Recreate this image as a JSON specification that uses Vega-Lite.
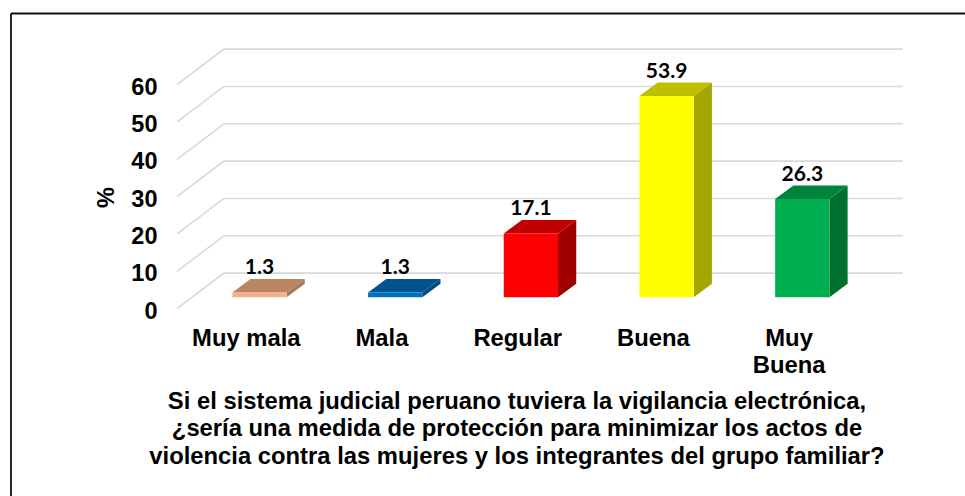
{
"$schema":"https://vega.github.io/schema/vega-lite/v6.json",
"width":954,"height":482.5,
"autosize":"none",
"padding":{"left":11,"top":13.5,"right":0,"bottom":0},
"background":"white",
"config":{"view":{"stroke":null}},
"datasets":{
 "bars":[
  {"cat":"Muy mala","i":1,"value":1.3},
  {"cat":"Mala","i":2,"value":1.3},
  {"cat":"Regular","i":3,"value":17.1},
  {"cat":"Buena","i":4,"value":53.9},
  {"cat":"Muy Buena","i":5,"value":26.3}],
 "grid":[{"v":0},{"v":10},{"v":20},{"v":30},{"v":40},{"v":50},{"v":60}]
},
"resolve":{"scale":{"fill":"independent"}},
"layer":[
 {"data":{"name":"grid"},
  "transform":[
   {"calculate":"[0.3921,0.7385,5.7398]","as":"xs"},
   {"calculate":"[datum.v,datum.v+9.51,datum.v+9.51]","as":"ys"},
   {"flatten":["xs","ys"]}],
  "mark":{"type":"line","stroke":"#D9D9D9","strokeWidth":1.6,"interpolate":"linear"},
  "encoding":{
   "x":{"field":"xs","type":"quantitative","scale":{"domain":[-0.8312,6.199],"nice":false,"zero":false},
    "axis":{"values":[1,2,3,4,5],"orient":"bottom","offset":-169.8,"grid":false,"domain":false,"ticks":false,
     "labelExpr":"datum.value==1?'Muy mala':datum.value==2?'Mala':datum.value==3?'Regular':datum.value==4?'Buena':['Muy','Buena']",
     "labelFont":"Liberation Sans","labelFontWeight":"bold","labelFontSize":23.8,"labelColor":"#000","labelPadding":0,"labelOffset":-13.7,"labelLineHeight":27.3,
     "labelOverlap":false,"labelFlush":false,"labelBound":false,"labelAngle":0,
     "title":["Si el sistema judicial peruano tuviera la vigilancia electrónica,","¿sería una medida de protección para minimizar los actos de","violencia contra las mujeres y los integrantes del grupo familiar?"],
     "titleFont":"Liberation Sans","titleFontWeight":"bold","titleFontSize":23.8,"titleColor":"#000","titleLineHeight":27.5,
     "titleX":505.5,"titleY":82.1,"titleAlign":"center","titleBaseline":"alphabetic"}},
   "y":{"field":"ys","type":"quantitative","scale":{"domain":[-50.2,79.05],"nice":false,"zero":false},
    "axis":{"values":[0,10,20,30,40,50,60],"orient":"left","offset":-166,"grid":false,"domain":false,"ticks":false,
     "labelFont":"Liberation Sans","labelFontWeight":"bold","labelFontSize":23.5,"labelColor":"#000","labelPadding":20,"labelOffset":2.5,"labelOverlap":false,"labelBound":false,"labelFlush":false,
     "title":"%","titleFont":"Liberation Sans","titleFontWeight":"bold","titleFontSize":23.5,"titleColor":"#000","titleAngle":-90,"titleX":-71,"titleY":183.5,"titleAlign":"center","titleBaseline":"middle"}},
   "detail":{"field":"v"}}},
 {"data":{"name":"bars"},
  "transform":[
   {"calculate":"[datum.i+0.2,datum.i+0.334]","as":"xs"},
   {"calculate":"[3.03,6.65]","as":"lo"},
   {"calculate":"[datum.value+3.03,datum.value+6.65]","as":"hi"},
   {"flatten":["xs","lo","hi"]}],
  "mark":{"type":"area","interpolate":"linear"},
  "encoding":{
   "x":{"field":"xs","type":"quantitative"},
   "y":{"field":"lo","type":"quantitative","stack":null},
   "y2":{"field":"hi"},
   "fill":{"field":"cat","type":"nominal","legend":null,"scale":{"domain":["Muy mala","Mala","Regular","Buena","Muy Buena"],"range":["#A67A5C","#004A80","#9E0000","#A6A600","#007030"]}}}},
 {"data":{"name":"bars"},
  "transform":[
   {"calculate":"[datum.i-0.2,datum.i-0.066,datum.i+0.2,datum.i+0.334]","as":"xs"},
   {"calculate":"[datum.value+3.03,datum.value+3.03,datum.value+3.03,datum.value+6.65]","as":"lo"},
   {"calculate":"[datum.value+3.03,datum.value+6.65,datum.value+6.65,datum.value+6.65]","as":"hi"},
   {"flatten":["xs","lo","hi"]}],
  "mark":{"type":"area","interpolate":"linear"},
  "encoding":{
   "x":{"field":"xs","type":"quantitative"},
   "y":{"field":"lo","type":"quantitative","stack":null},
   "y2":{"field":"hi"},
   "fill":{"field":"cat","type":"nominal","legend":null,"scale":{"domain":["Muy mala","Mala","Regular","Buena","Muy Buena"],"range":["#B98563","#00538F","#C00000","#BFBF00","#00843C"]}}}},
 {"data":{"name":"bars"},
  "transform":[
   {"calculate":"datum.i-0.2","as":"x0"},{"calculate":"datum.i+0.2","as":"x1"},
   {"calculate":"3.03","as":"y0"},{"calculate":"datum.value+3.03","as":"y1"}],
  "mark":{"type":"rect"},
  "encoding":{
   "x":{"field":"x0","type":"quantitative"},"x2":{"field":"x1"},
   "y":{"field":"y0","type":"quantitative"},"y2":{"field":"y1"},
   "fill":{"field":"cat","type":"nominal","legend":null,"scale":{"domain":["Muy mala","Mala","Regular","Buena","Muy Buena"],"range":["#F4B183","#0070C0","#FF0000","#FFFF00","#00B050"]}}}},
 {"data":{"name":"bars"},
  "transform":[{"calculate":"datum.value+3.03","as":"y1"}],
  "mark":{"type":"text","font":"Lato","fontWeight":700,"fontSize":21,"color":"#000","dy":-18,"baseline":"alphabetic","align":"center"},
  "encoding":{
   "x":{"field":"i","type":"quantitative"},
   "y":{"field":"y1","type":"quantitative"},
   "text":{"field":"value","type":"quantitative","format":".1f"}}},
 {"data":{"values":[{"edge":"left"}]},"mark":{"type":"rule","color":"#111","strokeWidth":1.8},"encoding":{"x":{"datum":-0.8312}}},
 {"data":{"values":[{"edge":"top"}]},"mark":{"type":"rule","color":"#111","strokeWidth":1.8},"encoding":{"y":{"datum":79.05}}}
]
}
